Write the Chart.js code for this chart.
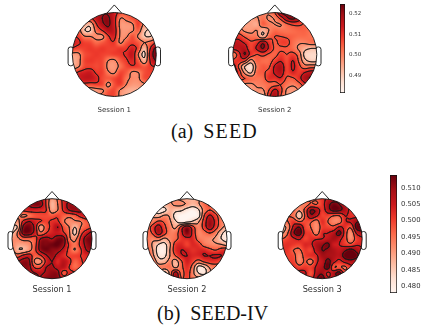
<!DOCTYPE html>
<html>
<head>
<meta charset="utf-8">
<script src="https://cdn.jsdelivr.net/npm/chart.js@4/dist/chart.umd.min.js"></script>
<style>
html, body { margin: 0; padding: 0; background: #fff; }
body { width: 422px; height: 331px; overflow: hidden; position: relative; }
canvas { position: absolute; }
.caption { position: absolute; font-family: "Liberation Serif", serif; font-size: 20px; line-height: 24px; color: #111; word-spacing: 5px; white-space: nowrap; }
.caption span { letter-spacing: 1.2px; }
</style>
</head>
<body>
<div class="caption" style="left:171px;top:119px">(a) <span>SEED</span></div>
<div class="caption" style="left:157px;top:301px">(b) SEED-IV</div>
<script>
var seedSession1 = [
    507,507,507,509,514,519,519,514,507,506,507,508,507,507,507,
    507,507,506,508,515,520,521,513,500,502,506,508,506,505,505,
    507,503,496,493,509,518,521,513,498,497,499,508,498,496,496,
    508,505,491,490,503,510,517,514,499,497,499,504,492,489,492,
    509,509,501,500,498,498,509,512,499,499,506,499,491,490,496,
    513,511,508,507,503,505,508,509,499,505,508,505,500,503,509,
    509,507,508,509,508,509,508,508,509,509,513,507,493,510,523,
    497,498,506,508,509,508,507,508,509,511,515,500,488,514,524,
    494,497,507,509,508,507,500,499,505,509,512,505,494,511,521,
    495,499,507,508,507,507,498,497,502,507,509,508,505,509,510,
    505,511,513,514,509,508,501,499,507,505,499,500,506,508,508,
    508,512,515,515,512,507,505,507,509,502,499,499,506,507,507,
    507,509,508,507,508,507,498,506,508,500,497,497,499,505,505,
    507,505,497,495,497,499,505,507,499,495,494,495,499,505,505,
    507,507,500,498,500,503,507,507,498,496,496,498,503,505,505
];
var seedSession2 = [
    500,500,500,500,500,500,500,506,520,522,520,512,505,505,505,
    503,499,497,496,498,502,498,500,508,518,521,516,506,504,504,
    504,500,496,496,495,504,501,499,499,504,507,507,505,503,503,
    505,502,498,497,499,493,499,503,502,502,503,504,504,502,502,
    510,510,505,502,501,494,503,506,506,505,504,503,503,502,502,
    515,515,512,507,510,518,510,505,508,508,503,500,500,502,502,
    515,516,517,508,514,520,512,505,505,505,503,498,494,492,492,
    500,510,520,510,506,508,505,504,508,506,508,503,490,488,488,
    508,510,508,497,504,503,503,508,512,507,513,505,494,490,490,
    517,505,492,487,501,505,505,514,518,508,514,508,502,503,503,
    518,510,497,491,503,505,508,514,517,508,512,509,513,516,516,
    505,507,506,503,502,503,510,510,512,505,505,510,518,520,518,
    504,502,498,498,500,501,503,504,506,502,500,503,510,512,510,
    502,498,495,496,498,498,506,515,508,498,497,499,503,504,504,
    500,498,496,497,498,494,510,519,506,498,497,498,500,500,500
];
var seedIvSession1 = [
    500,500,500,500,508,508,500,490,495,503,505,503,500,500,500,
    500,500,502,508,512,511,500,488,494,503,510,508,503,500,500,
    500,500,502,504,504,503,501,490,494,502,508,510,509,502,500,
    500,496,493,495,498,499,499,498,500,497,496,498,503,505,503,
    497,492,503,508,504,501,500,502,502,495,492,493,494,498,500,
    484,488,510,513,506,490,498,503,508,499,494,487,494,498,500,
    486,495,511,512,505,496,501,504,505,502,495,485,498,505,510,
    492,493,497,497,498,508,510,508,512,511,496,492,502,511,513,
    493,490,490,492,498,511,512,513,514,510,500,495,503,510,513,
    495,488,488,492,499,510,513,511,510,506,499,494,500,508,510,
    500,498,503,505,497,500,507,510,506,503,500,500,501,503,505,
    508,508,511,509,493,492,503,508,503,507,503,497,500,503,503,
    508,508,511,510,500,500,508,509,506,507,501,496,499,502,503,
    505,505,508,510,508,507,509,511,510,498,503,502,502,503,503,
    505,505,508,508,508,508,511,512,511,506,505,503,503,503,503
];
var seedIvSession2 = [
    491,491,491,491,491,491,490,488,488,490,494,495,493,493,493,
    491,491,488,488,490,492,492,490,487,490,496,498,495,493,493,
    490,486,480,482,488,486,485,481,479,483,494,498,495,493,493,
    493,490,488,492,490,481,478,478,478,481,498,506,500,494,493,
    493,494,499,497,492,485,480,482,485,490,501,510,503,494,493,
    494,501,508,500,494,490,501,510,501,493,501,509,501,493,488,
    495,499,508,501,494,495,503,512,503,493,495,498,494,486,480,
    495,493,495,490,493,496,501,503,503,495,493,492,490,484,480,
    496,490,484,482,490,501,503,500,503,501,495,493,492,491,488,
    498,491,481,480,491,502,505,504,502,503,503,500,498,501,503,
    501,493,483,482,491,498,504,505,503,503,505,505,506,505,503,
    503,498,488,488,493,488,497,504,500,495,499,501,501,499,498,
    503,500,495,494,495,490,496,502,495,482,484,492,495,495,495,
    501,498,495,482,493,508,496,501,493,484,482,490,495,495,495,
    498,498,495,490,495,510,498,500,495,493,493,494,495,495,495
];
var seedIvSession3 = [
    503,503,501,499,498,498,498,501,506,508,508,503,503,503,503,
    501,501,497,495,494,498,497,501,509,513,511,507,503,503,503,
    499,498,497,491,499,511,509,501,508,513,512,508,502,501,501,
    496,497,495,485,498,509,505,500,500,497,497,504,502,502,503,
    493,497,501,497,499,498,494,502,497,493,494,503,505,510,511,
    487,493,506,511,500,497,492,500,500,499,505,502,498,513,516,
    489,497,510,514,502,500,494,503,504,507,513,501,492,505,508,
    497,500,503,505,500,502,503,504,506,509,506,500,492,500,503,
    501,502,501,500,503,503,508,510,512,505,504,501,499,503,503,
    502,501,497,496,501,500,507,511,510,508,506,510,513,509,505,
    501,500,499,493,500,502,503,509,509,508,507,514,517,513,506,
    500,500,500,493,498,494,503,506,513,506,502,506,508,506,503,
    500,500,502,500,501,500,505,508,514,498,498,496,502,503,503,
    500,500,502,506,505,498,507,510,503,508,513,500,500,503,503,
    500,500,502,504,503,500,510,514,505,506,509,502,500,503,503
];

// contour levels and colour bar ticks, thousandths
var seedLevels1 = [490, 500, 510, 520];
var seedLevels2 = [492, 499, 506, 513, 520];
var seedIvLevels1 = [487, 494, 501, 508];
var seedIvLevels2 = [484, 491, 498, 505];
var seedIvLevels3 = [490, 497, 504, 511];
var seedTicks = [0.49, 0.50, 0.51, 0.52];
var seedIvTicks = [0.480, 0.485, 0.490, 0.495, 0.500, 0.505, 0.510];

var reds = ['#fff5f0', '#fee0d2', '#fcbba1', '#fc9272', '#fb6a4a', '#ef3b2c', '#cb181d', '#a50f15', '#67000d'];
var redsRgb = reds.map(function (c) {
    return [parseInt(c.substr(1, 2), 16), parseInt(c.substr(3, 2), 16), parseInt(c.substr(5, 2), 16)];
});

function colorAt(t) {
    t = Math.max(0, Math.min(1, t)) * (redsRgb.length - 1);
    var i = Math.min(redsRgb.length - 2, Math.floor(t));
    var f = t - i;
    return [0, 1, 2].map(function (k) {
        return redsRgb[i][k] + (redsRgb[i + 1][k] - redsRgb[i][k]) * f;
    });
}

// smooth lookup in the 15 x 15 table, col and row can be fractional
function cubic(a, b, c, d, f) {
    return b + 0.5 * f * (c - a + f * (2 * a - 5 * b + 4 * c - d + f * (3 * (b - c) + d - a)));
}
function sample(points, col, row) {
    function at(c, r) {
        c = Math.max(0, Math.min(14, c));
        r = Math.max(0, Math.min(14, r));
        return points[r * 15 + c].v;
    }
    var c0 = Math.floor(col), r0 = Math.floor(row);
    var parts = [];
    for (var r = -1; r <= 2; r++) {
        parts.push(cubic(at(c0 - 1, r0 + r), at(c0, r0 + r), at(c0 + 1, r0 + r), at(c0 + 2, r0 + r), col - c0));
    }
    return cubic(parts[0], parts[1], parts[2], parts[3], row - r0);
}

var topoPlugin = {
    id: 'topo',
    beforeDatasetsDraw: function (chart) {
        var ctx = chart.ctx, sx = chart.scales.x, sy = chart.scales.y;
        var ds = chart.data.datasets[0];
        var points = ds.data;
        var cx = sx.getPixelForValue(0), cy = sy.getPixelForValue(0);
        var r = sx.getPixelForValue(1) - cx;

        // ears and nose stay under the head
        ctx.save();
        ctx.strokeStyle = '#111';
        ctx.lineWidth = 0.9;
        ctx.fillStyle = '#fff';
        [-1, 1].forEach(function (side) {
            var x0 = sx.getPixelForValue(side > 0 ? 0.97 : -1.1);
            var x1 = sx.getPixelForValue(side > 0 ? 1.1 : -0.97);
            var y0 = sy.getPixelForValue(0.18), y1 = sy.getPixelForValue(-0.27);
            ctx.beginPath();
            ctx.roundRect(x0, y0, x1 - x0, y1 - y0, 2.5);
            ctx.fill();
            ctx.stroke();
        });
        ctx.beginPath();
        ctx.moveTo(sx.getPixelForValue(-0.18), sy.getPixelForValue(0.98));
        ctx.lineTo(sx.getPixelForValue(0), sy.getPixelForValue(1.18));
        ctx.lineTo(sx.getPixelForValue(0.18), sy.getPixelForValue(0.98));
        ctx.stroke();

        // colours
        var w = chart.width, h = chart.height;
        var off = document.createElement('canvas');
        off.width = w;
        off.height = h;
        var octx = off.getContext('2d');
        var img = octx.createImageData(w, h);
        for (var py = 0; py < h; py++) {
            for (var px = 0; px < w; px++) {
                var ux = sx.getValueForPixel(px + 0.5), uy = sy.getValueForPixel(py + 0.5);
                if (ux * ux + uy * uy > 1.1) continue;
                var v = sample(points, (ux + 1) * 7, (1 - uy) * 7);
                var c = colorAt((v - ds.vmin) / (ds.vmax - ds.vmin));
                var o = (py * w + px) * 4;
                img.data[o] = c[0];
                img.data[o + 1] = c[1];
                img.data[o + 2] = c[2];
                img.data[o + 3] = 255;
            }
        }
        octx.putImageData(img, 0, 0);
        ctx.beginPath();
        ctx.arc(cx, cy, r, 0, Math.PI * 2);
        ctx.save();
        ctx.clip();
        ctx.drawImage(off, 0, 0);

        // contour lines, marching squares over a finer sampling of the table
        var n = 84;
        var field = [];
        for (var j = 0; j <= n; j++) {
            for (var i = 0; i <= n; i++) {
                field.push(sample(points, i / n * 14, j / n * 14));
            }
        }
        function px2(i) { return sx.getPixelForValue(i / n * 2 - 1); }
        function py2(j) { return sy.getPixelForValue(1 - j / n * 2); }
        ctx.strokeStyle = '#1a1a1a';
        ctx.lineWidth = 0.85;
        ctx.lineCap = 'round';
        ds.levels.forEach(function (level) {
            ctx.beginPath();
            for (var j = 0; j < n; j++) {
                for (var i = 0; i < n; i++) {
                    var a = field[j * (n + 1) + i], b = field[j * (n + 1) + i + 1];
                    var d = field[(j + 1) * (n + 1) + i], e = field[(j + 1) * (n + 1) + i + 1];
                    var cross = [];
                    if ((a < level) !== (b < level)) cross.push([i + (level - a) / (b - a), j]);
                    if ((b < level) !== (e < level)) cross.push([i + 1, j + (level - b) / (e - b)]);
                    if ((d < level) !== (e < level)) cross.push([i + (level - d) / (e - d), j + 1]);
                    if ((a < level) !== (d < level)) cross.push([i, j + (level - a) / (d - a)]);
                    for (var k = 0; k + 1 < cross.length; k += 2) {
                        ctx.moveTo(px2(cross[k][0]), py2(cross[k][1]));
                        ctx.lineTo(px2(cross[k + 1][0]), py2(cross[k + 1][1]));
                    }
                }
            }
            ctx.stroke();
        });
        ctx.restore();

        // head outline
        ctx.strokeStyle = '#111';
        ctx.lineWidth = 0.9;
        ctx.beginPath();
        ctx.arc(cx, cy, r, 0, Math.PI * 2);
        ctx.stroke();

        // session label under the head
        ctx.fillStyle = '#333';
        ctx.font = ds.labelSize + 'px "DejaVu Sans"';
        ctx.textAlign = 'center';
        ctx.textBaseline = 'middle';
        ctx.fillText(ds.label, cx, sy.getPixelForValue(ds.labelY));
        ctx.restore();
    }
};

function makeMap(values, levels, label, cx, cy, r, labelSize, labelY, vmin, vmax) {
    var W = Math.ceil(2.7 * r), H = Math.ceil(3.0 * r);
    var left = Math.floor(cx - W / 2), top = Math.floor(cy - 1.35 * r);
    var canvas = document.createElement('canvas');
    canvas.width = W;
    canvas.height = H;
    canvas.style.left = left + 'px';
    canvas.style.top = top + 'px';
    canvas.style.width = W + 'px';
    canvas.style.height = H + 'px';
    document.body.appendChild(canvas);
    // the table as points of the chart, in head coordinates
    var points = values.map(function (v, i) {
        return { x: (i % 15) / 7 - 1, y: 1 - Math.floor(i / 15) / 7, v: v / 1000 };
    });
    new Chart(canvas, {
        type: 'scatter',
        data: { datasets: [{
            label: label, data: points, pointRadius: 0,
            levels: levels.map(function (l) { return l / 1000; }),
            vmin: vmin, vmax: vmax, labelSize: labelSize, labelY: labelY
        }] },
        options: {
            responsive: false,
            animation: false,
            devicePixelRatio: 1,
            events: [],
            layout: { padding: 0 },
            plugins: { legend: { display: false }, tooltip: { enabled: false } },
            scales: {
                x: { type: 'linear', display: false, min: (left - cx) / r, max: (left + W - cx) / r },
                y: { type: 'linear', display: false, min: (cy - top - H) / r, max: (cy - top) / r }
            }
        },
        plugins: [topoPlugin]
    });
}

function makeBar(ticks, digits, fontSize, left, top, width, height, vmin, vmax) {
    var pad = 10, axisWidth = 28;
    var canvas = document.createElement('canvas');
    canvas.width = width + axisWidth + 1;
    canvas.height = height + pad * 2;
    canvas.style.left = (left - 1) + 'px';
    canvas.style.top = (top - pad) + 'px';
    canvas.style.width = canvas.width + 'px';
    canvas.style.height = canvas.height + 'px';
    document.body.appendChild(canvas);
    new Chart(canvas, {
        type: 'bar',
        data: {
            labels: ['bar'],
            datasets: [{
                data: [[vmin, vmax]],
                barPercentage: 1,
                categoryPercentage: 1,
                borderWidth: 1,
                borderColor: '#111',
                borderSkipped: false,
                backgroundColor: function (c) {
                    var area = c.chart.chartArea;
                    if (!area) return reds[4];
                    var g = c.chart.ctx.createLinearGradient(0, area.bottom, 0, area.top);
                    reds.forEach(function (col, i) { g.addColorStop(i / (reds.length - 1), col); });
                    return g;
                }
            }]
        },
        options: {
            responsive: false,
            animation: false,
            devicePixelRatio: 1,
            events: [],
            layout: { padding: { left: 1, right: 0, top: pad, bottom: pad } },
            plugins: { legend: { display: false }, tooltip: { enabled: false } },
            scales: {
                x: { display: false },
                y: {
                    position: 'right',
                    min: vmin,
                    max: vmax,
                    grid: { display: false, drawTicks: true, tickLength: 2, tickColor: '#111' },
                    border: { display: false },
                    afterFit: function (s) { s.width = axisWidth; },
                    afterBuildTicks: function (s) {
                        s.ticks = ticks.map(function (t) { return { value: t }; });
                    },
                    ticks: {
                        autoSkip: false,
                        padding: 2,
                        color: '#333',
                        font: { family: 'DejaVu Sans', size: fontSize },
                        callback: function (v) { return v.toFixed(digits); }
                    }
                }
            }
        }
    });
}

makeMap(seedSession1, seedLevels1, 'Session 1', 114.3, 54.5, 42, 7, -1.32, 0.4816, 0.5247);
makeMap(seedSession2, seedLevels2, 'Session 2', 274.8, 54.5, 42, 7, -1.32, 0.4816, 0.5247);
makeMap(seedIvSession1, seedIvLevels1, 'Session 1', 52, 238.7, 40, 8.2, -1.28, 0.478, 0.5139);
makeMap(seedIvSession2, seedIvLevels2, 'Session 2', 187, 238.7, 40, 8.2, -1.28, 0.478, 0.5139);
makeMap(seedIvSession3, seedIvLevels3, 'Session 3', 322.2, 238.7, 40, 8.2, -1.28, 0.478, 0.5139);
makeBar(seedTicks, 2, 5.5, 340, 4, 5, 89, 0.4816, 0.5247);
makeBar(seedIvTicks, 3, 6.8, 390, 175, 7, 118, 0.478, 0.5139);
</script>
</body>
</html>
